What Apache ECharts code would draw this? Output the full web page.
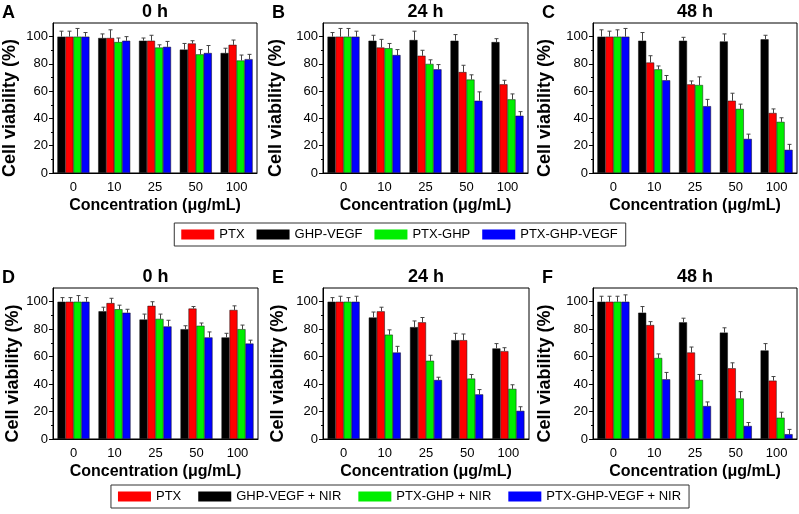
<!DOCTYPE html>
<html>
<head>
<meta charset="utf-8">
<script src="https://cdn.jsdelivr.net/npm/echarts@6/dist/echarts.min.js"></script>
<style>
  html, body { margin: 0; background: #fff; }
  #chart { width: 799px; height: 514px; }
</style>
</head>
<body>
<div id="chart"></div>
<script>
// concentrations (ug/mL)
const categories = ['0', '10', '25', '50', '100']
const yTicks = [0, 20, 40, 60, 80, 100]

// bar order inside each group: black, red, green, blue
const namesTop = ['GHP-VEGF', 'PTX', 'PTX-GHP', 'PTX-GHP-VEGF']
const namesBottom = ['GHP-VEGF + NIR', 'PTX', 'PTX-GHP + NIR', 'PTX-GHP-VEGF + NIR']
const legendTop = ['PTX', 'GHP-VEGF', 'PTX-GHP', 'PTX-GHP-VEGF']
const legendBottom = ['PTX', 'GHP-VEGF + NIR', 'PTX-GHP + NIR', 'PTX-GHP-VEGF + NIR']
const colors = ['#000000', '#ff0000', '#00ee00', '#0000ff']

// A - 0 h
const valA = [
  [100, 99, 97, 90.5, 88],
  [100, 99, 97, 95, 94],
  [100, 96, 92, 87, 82.5],
  [100, 97, 92.5, 88, 83.5]
]
const errA = [
  [4, 3, 2, 4.5, 3.5],
  [4, 6, 4, 2, 3.5],
  [6, 3, 2, 3.5, 4],
  [3, 3, 4, 5.5, 3.5]
]
// B - 24 h
const valB = [
  [100, 97, 97.5, 97, 96],
  [100, 92, 86, 74, 65],
  [100, 91.5, 80, 68.5, 54],
  [100, 86.5, 76, 53, 42]
]
const errB = [
  [3, 4, 6.5, 4.5, 2.5],
  [6, 6, 4, 5, 3],
  [6, 3.5, 3, 3.5, 4],
  [4, 4, 3.5, 6.5, 3]
]
// C - 48 h
const valC = [
  [100, 97, 97, 96.5, 98],
  [100, 81, 65, 53, 44],
  [100, 76, 64.5, 47, 37.5],
  [100, 68, 49, 25, 17]
]
const errC = [
  [5, 6, 2.5, 5.5, 3],
  [4, 5, 2.5, 5.5, 3],
  [5, 2.5, 6, 3.5, 3],
  [6, 3.5, 5, 3.5, 4]
]
// D - 0 h + NIR
const valD = [
  [100, 93, 87, 80, 74],
  [100, 99, 97, 95, 94],
  [100, 94.5, 87.5, 82.5, 80],
  [100, 92, 82, 74, 69.5]
]
const errD = [
  [3, 3, 4, 2.5, 3],
  [3, 3.5, 3, 1.5, 3],
  [4.5, 3, 3.5, 2, 3],
  [3, 2.5, 4.5, 4, 2.5]
]
// E - 24 h + NIR
const valE = [
  [100, 88.5, 81.5, 72, 66],
  [100, 93, 85, 72, 64],
  [100, 76, 57, 44, 36.5],
  [100, 63, 43, 32.5, 20.5]
]
const errE = [
  [3, 4, 4.5, 5, 3.5],
  [4, 3, 3.5, 4.5, 2.5],
  [3, 3.5, 4, 3, 3],
  [4, 4.5, 2, 3.5, 3]
]
// F - 48 h + NIR
const valF = [
  [100, 92, 85, 77.5, 64.5],
  [100, 83, 63, 51.5, 42.5],
  [100, 59, 43, 29.5, 15.5],
  [100, 43.5, 24, 9.5, 3.5]
]
const errF = [
  [4, 4.5, 3, 3.5, 5],
  [4, 2.5, 4, 4, 3],
  [4, 3, 4, 5, 4],
  [5, 5, 3, 2.5, 3.5]
]

const BAR_W = 8
const FONT = 'Liberation Sans, Arial, sans-serif'

const panels = [
  { letter: 'A', title: '0 h', val: valA, err: errA, names: namesTop, left: 53, top: 23, width: 204, height: 150, yName: 10 },
  { letter: 'B', title: '24 h', val: valB, err: errB, names: namesTop, left: 323, top: 23, width: 205, height: 150, yName: 276 },
  { letter: 'C', title: '48 h', val: valC, err: errC, names: namesTop, left: 593, top: 23, width: 204, height: 150, yName: 545 },
  { letter: 'D', title: '0 h', val: valD, err: errD, names: namesBottom, left: 53, top: 288, width: 205, height: 151, yName: 13 },
  { letter: 'E', title: '24 h', val: valE, err: errE, names: namesBottom, left: 323, top: 288, width: 206, height: 151, yName: 278 },
  { letter: 'F', title: '48 h', val: valF, err: errF, names: namesBottom, left: 593, top: 288, width: 204, height: 151, yName: 545 }
]

const grid = []
const xAxis = []
const yAxis = []
const series = []
const graphic = []

panels.forEach((p, k) => {
  grid.push({
    left: p.left, top: p.top, width: p.width, height: p.height,
    show: true, borderColor: '#000', borderWidth: 1
  })
  xAxis.push({
    type: 'category',
    gridIndex: k,
    data: categories,
    name: 'Concentration (μg/mL)',
    nameLocation: 'middle',
    nameGap: 25,
    nameTextStyle: { fontFamily: FONT, fontWeight: 'bold', fontSize: 16, color: '#000' },
    axisLine: { lineStyle: { color: '#000', width: 1 } },
    axisTick: { alignWithLabel: true, length: 4, lineStyle: { color: '#000' } },
    axisLabel: { margin: 8, fontFamily: FONT, fontSize: 13, color: '#000' }
  })
  yAxis.push({
    type: 'value',
    gridIndex: k,
    min: 0,
    max: 110,
    interval: 20,
    splitLine: { show: false },
    axisLine: { show: true, lineStyle: { color: '#000', width: 1 } },
    axisTick: { show: true, length: 4, customValues: yTicks, lineStyle: { color: '#000' } },
    minorTick: { show: true, splitNumber: 2, length: 2, lineStyle: { color: '#000' } },
    axisLabel: { margin: 5, customValues: yTicks, fontFamily: FONT, fontSize: 13, color: '#000' }
  })
  p.val.forEach((vals, i) => {
    series.push({
      type: 'bar',
      name: p.names[i],
      xAxisIndex: k,
      yAxisIndex: k,
      data: vals,
      barWidth: BAR_W,
      barGap: '0%',
      itemStyle: { color: colors[i], borderColor: '#111', borderWidth: 0.5 },
      animation: false
    })
  })
  const errData = []
  p.val.forEach((vals, i) => {
    vals.forEach((v, j) => errData.push([j, v, p.err[i][j], i]))
  })
  series.push({
    type: 'custom',
    name: 'err',
    xAxisIndex: k,
    yAxisIndex: k,
    data: errData,
    encode: { x: 0, y: 1 },
    z: 5,
    animation: false,
    renderItem: function (params, api) {
      const base = api.coord([api.value(0), api.value(1)])
      const top = api.coord([api.value(0), api.value(1) + api.value(2)])
      const x = Math.round(base[0] + (api.value(3) - 1.5) * BAR_W) + 0.5
      const style = { stroke: '#444', lineWidth: 1 }
      return {
        type: 'group',
        children: [
          { type: 'line', shape: { x1: x, y1: base[1], x2: x, y2: top[1] }, style },
          { type: 'line', shape: { x1: x - 2, y1: top[1], x2: x + 2, y2: top[1] }, style }
        ]
      }
    }
  })
  graphic.push({
    type: 'text',
    left: p.left - 51, top: p.top - 19,
    style: { text: p.letter, font: 'bold 18px ' + FONT, fill: '#000' }
  })
  graphic.push({
    type: 'text',
    x: p.left + p.width / 2, y: p.top - 11,
    style: { text: p.title, font: 'bold 18px ' + FONT, fill: '#000', align: 'center', verticalAlign: 'middle' }
  })
  graphic.push({
    type: 'text',
    x: p.yName, y: p.top + p.height / 2 + 10,
    rotation: Math.PI / 2,
    style: { text: 'Cell viability (%)', font: 'bold 18px ' + FONT, fill: '#000', align: 'center', verticalAlign: 'middle' }
  })
})

const legendCommon = {
  left: 'center',
  orient: 'horizontal',
  icon: 'rect',
  itemWidth: 33,
  itemHeight: 10,
  itemGap: 12,
  itemStyle: { borderWidth: 0 },
  borderColor: '#333',
  borderWidth: 1,
  borderRadius: 0,
  padding: [5, 8, 5, 7],
  textStyle: { fontFamily: FONT, fontSize: 13, color: '#000' },
  selectedMode: false
}

const chart = echarts.init(document.getElementById('chart'), null, { renderer: 'canvas' })
chart.setOption({
  backgroundColor: '#fff',
  animation: false,
  legend: [
    Object.assign({}, legendCommon, { top: 223, data: legendTop }),
    Object.assign({}, legendCommon, { top: 485, itemGap: 17, data: legendBottom })
  ],
  grid: grid,
  xAxis: xAxis,
  yAxis: yAxis,
  series: series,
  graphic: graphic
})
</script>
</body>
</html>
